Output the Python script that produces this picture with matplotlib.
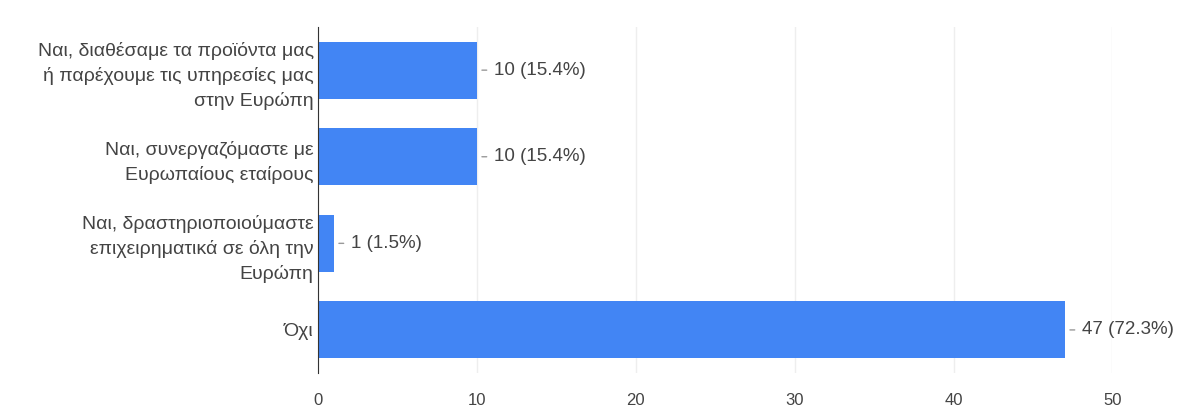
import matplotlib.pyplot as plt

categories = [
    "Ναι, διαθέσαμε τα προϊόντα μας\nή παρέχουμε τις υπηρεσίες μας\nστην Ευρώπη",
    "Ναι, συνεργαζόμαστε με\nΕυρωπαίους εταίρους",
    "Ναι, δραστηριοποιούμαστε\nεπιχειρηματικά σε όλη την\nΕυρώπη",
    "Όχι",
]
counts = [10, 10, 1, 47]
percents = [15.4, 15.4, 1.5, 72.3]
xticks = [0, 10, 20, 30, 40, 50]

plt.rcParams['font.family'] = ['Liberation Sans', 'DejaVu Sans']

fig = plt.figure(figsize=(11.86, 4.07), dpi=100)
ax = fig.add_axes([0.268, 0.083, 0.67, 0.851])

ypos = range(len(categories))
ax.barh(ypos, counts, height=0.66, color="#4285f4", zorder=2)

for y, c, p in zip(ypos, counts, percents):
    ax.annotate("", xy=(c + 0.15, y), xytext=(c + 0.8, y),
                arrowprops=dict(arrowstyle="-", color="#999999", lw=1))
    ax.text(c + 1.1, y, f"{c} ({p}%)", va="center", ha="left",
            fontsize=13.5, color="#444444")

ax.set_ylim(len(categories) - 0.5, -0.5)
ax.set_xlim(0, 50)
ax.set_yticks(list(ypos))
ax.set_yticklabels(categories, fontsize=14, color="#444444",
                   linespacing=1.5)
ax.set_xticks(xticks)
ax.set_xticklabels([str(t) for t in xticks], fontsize=12, color="#444444")
ax.tick_params(axis="both", length=0)
ax.tick_params(axis="y", pad=3)
ax.tick_params(axis="x", pad=14)
ax.grid(axis="x", color="#eeeeee", lw=1, zorder=0)

for side in ["top", "right", "bottom"]:
    ax.spines[side].set_visible(False)
ax.spines["left"].set_color("#333333")
ax.spines["left"].set_zorder(3)

fig.savefig("out.png", dpi=100)
